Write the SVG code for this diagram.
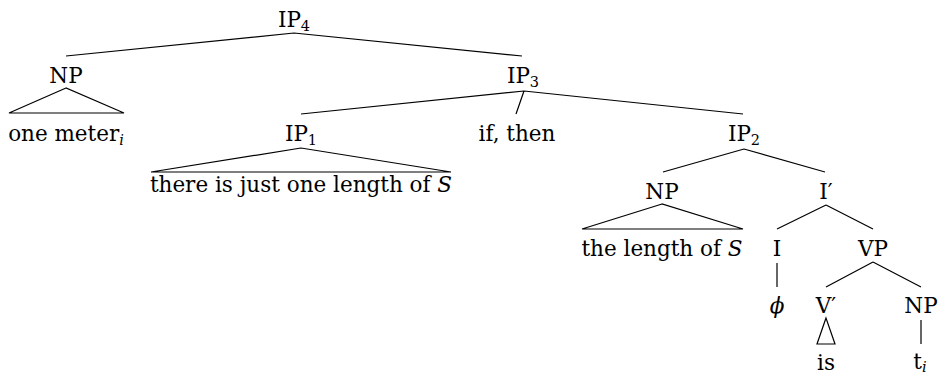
<svg xmlns="http://www.w3.org/2000/svg" width="940" height="375" viewBox="0 0 940 375">
<style>
text{font-family:"DejaVu Serif",serif;font-size:21.5px;fill:#000;text-anchor:middle}
.sub{font-size:14.5px}
.it{font-style:italic}
.e{stroke:#000;stroke-width:1.2;fill:none}
</style>
<rect width="940" height="375" fill="#fff"/>
<g id="connectors">
<path class="e" d="M294 33L66 56M294 33L522 56"/>
<path class="e" d="M66 88L9 113H124Z"/>
<path class="e" d="M524 91L301 114M524 91L516 114M524 91L743 114"/>
<path class="e" d="M301 148L151 172H451Z"/>
<path class="e" d="M744 149L663 172M744 149L825 172"/>
<path class="e" d="M662 204L582 229H743Z"/>
<path class="e" d="M826 205L777 229M826 205L873 229"/>
<path class="e" d="M777 263V287"/>
<path class="e" d="M873 262L826 287M873 262L921 287"/>
<path class="e" d="M826 318L817 344H835Z"/>
<path class="e" d="M921 320V344"/>
</g>
<g id="IP4"><text x="294" y="27">IP<tspan class="sub" dy="4">4</tspan></text></g>
<g id="NP_top"><text x="66" y="83">NP</text></g>
<g id="one_meter"><text x="66" y="141">one meter<tspan class="sub it" dy="4">i</tspan></text></g>
<g id="IP3"><text x="523" y="83">IP<tspan class="sub" dy="4">3</tspan></text></g>
<g id="IP1"><text x="301" y="141">IP<tspan class="sub" dy="4">1</tspan></text></g>
<g id="there_is"><text x="301" y="192">there is just one length of <tspan class="it">S</tspan></text></g>
<g id="if_then"><text x="517" y="141">if, then</text></g>
<g id="IP2"><text x="744" y="141">IP<tspan class="sub" dy="4">2</tspan></text></g>
<g id="NP_subj"><text x="662" y="199">NP</text></g>
<g id="the_length"><text x="662" y="256">the length of <tspan class="it">S</tspan></text></g>
<g id="Ibar"><text x="826" y="199">I′</text></g>
<g id="I"><text x="777" y="256">I</text></g>
<g id="VP"><text x="873" y="256">VP</text></g>
<g id="phi"><text x="777" y="313" class="it">ϕ</text></g>
<g id="Vbar"><text x="826" y="313">V′</text></g>
<g id="NP_obj"><text x="921" y="313">NP</text></g>
<g id="is"><text x="826" y="370">is</text></g>
<g id="t_i"><text x="920" y="369">t<tspan class="sub it" dy="3">i</tspan></text></g>
</svg>
